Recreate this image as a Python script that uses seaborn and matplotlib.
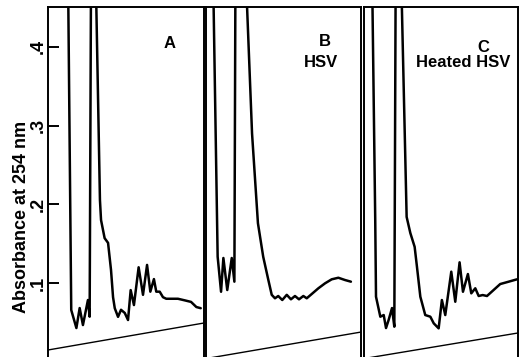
import pandas as pd
import seaborn as sns
import matplotlib.pyplot as plt

# elution position (0-100 across each panel) and absorbance at 254 nm
a_x = [12.8, 14.9, 18.2, 20.3, 22.4, 25.6, 26.7, 27.6, 30.9, 33.3, 34.0, 36.3, 38.5, 40.4,
       41.7, 42.8, 44.9, 46.8, 49.2, 51.3, 53.0, 55.1, 58.1, 60.9, 63.5, 65.6, 67.9, 69.4,
       71.6, 73.7, 75.8, 78.8, 83.3, 87.6, 91.7, 95.1, 97.9]
a_y = [0.50, 0.0657, 0.0428, 0.0682, 0.0466, 0.0784, 0.0572, 0.50, 0.46, 0.2055, 0.180,
       0.157, 0.151, 0.1165, 0.082, 0.068, 0.057, 0.066, 0.062, 0.053, 0.091, 0.072, 0.120,
       0.085, 0.123, 0.089, 0.105, 0.089, 0.089, 0.082, 0.080, 0.080, 0.080, 0.078, 0.076,
       0.0695, 0.068]

b_x = [4.5, 7.5, 9.7, 11.2, 13.7, 16.6, 18.3, 19.0, 26.3, 29.7, 33.5, 36.9, 40.2, 42.4,
       44.5, 46.6, 49.2, 52.1, 54.8, 57.4, 60.0, 62.8, 65.0, 68.2, 72.5, 76.8, 81.1, 85.4,
       89.7, 93.5]
b_y = [0.50, 0.1334, 0.0889, 0.1318, 0.0911, 0.1318, 0.1017, 0.50, 0.46, 0.290, 0.176,
       0.1334, 0.104, 0.085, 0.0806, 0.0835, 0.0784, 0.085, 0.0793, 0.0835, 0.0793, 0.0835,
       0.0806, 0.086, 0.0933, 0.0996, 0.1047, 0.1067, 0.1038, 0.1017]

c_x = [5.2, 7.3, 7.8, 10.6, 12.8, 14.3, 16.0, 18.2, 19.7, 20.6, 24.5, 27.7, 30.1, 32.9,
       34.4, 36.6, 39.8, 43.1, 45.3, 48.5, 50.6, 52.8, 56.7, 59.3, 62.1, 64.3, 67.5, 69.7,
       72.3, 74.5, 77.1, 79.9, 84.2, 88.5, 94.0, 99.4]
c_y = [0.50, 0.180, 0.0826, 0.0572, 0.0593, 0.0428, 0.0530, 0.0682, 0.0445, 0.50, 0.46,
       0.184, 0.1635, 0.146, 0.1207, 0.0826, 0.0593, 0.0572, 0.0488, 0.0424, 0.0784, 0.0593,
       0.1144, 0.0762, 0.1263, 0.0889, 0.1114, 0.0869, 0.0933, 0.0835, 0.0847, 0.0835,
       0.0911, 0.0987, 0.1017, 0.1047]

# recorder baseline drawn across the bottom of each panel (start, end)
baseline_x = [0, 100]
baseline_a = [0.0149, 0.0492]
baseline_b = [0.0040, 0.0377]
baseline_c = [0.0040, 0.0365]

yticks = [0.1, 0.2, 0.3, 0.4]
ytick_labels = ['.1', '.2', '.3', '.4']
panel_letters = ['A', 'B', 'C']
panel_names = ['', 'HSV', 'Heated HSV']

sns.set_style("ticks")
plt.rcParams['font.family'] = ['Liberation Sans', 'DejaVu Sans']
plt.rcParams['text.color'] = 'black'
plt.rcParams['axes.labelcolor'] = 'black'
plt.rcParams['ytick.color'] = 'black'

fig = plt.figure(figsize=(5.2, 3.57), dpi=100)
positions = [[0.0923, 0.0, 0.300, 0.9804],
             [0.3962, 0.0, 0.298, 0.9804],
             [0.7000, 0.0, 0.296, 0.9804]]
traces = [(a_x, a_y, baseline_a), (b_x, b_y, baseline_b), (c_x, c_y, baseline_c)]
letter_pos = [(0.78, 0.897), (0.768, 0.90), (0.773, 0.883)]
name_pos = [(0, 0), (0.742, 0.84), (0.643, 0.84)]

for i, (xs, ys, base) in enumerate(traces):
    ax = fig.add_axes(positions[i])
    df = pd.DataFrame({'pos': xs, 'abs': ys})
    sns.lineplot(data=df, x='pos', y='abs', sort=False, estimator=None,
                 color='black', lw=1.8, ax=ax)
    sns.lineplot(x=baseline_x, y=base, sort=False, estimator=None,
                 color='black', lw=1.0, ax=ax)
    ax.set_xlim(0, 100)
    ax.set_ylim(0.006, 0.4507)
    ax.set_xlabel('')
    ax.set_ylabel('')
    ax.set_xticks([])
    sns.despine(ax=ax, top=False, right=False, left=False, bottom=True)
    for s in ['left', 'right', 'top']:
        ax.spines[s].set_linewidth(1.4)
        ax.spines[s].set_color('black')

    if i == 0:
        ax.set_yticks(yticks)
        ax.set_yticklabels(ytick_labels, rotation=90, va='center', fontsize=13,
                           fontweight='bold')
        ax.tick_params(axis='y', direction='in', length=8, width=1.4, pad=1)
        ax.set_ylabel('Absorbance at 254 nm', fontsize=13, fontweight='bold')
        ax.yaxis.set_label_coords(-0.115, 0.40)
    else:
        ax.set_yticks([])

    ax.text(*letter_pos[i], panel_letters[i], transform=ax.transAxes,
            ha='center', va='center', fontsize=12, fontweight='bold')
    if panel_names[i]:
        ax.text(*name_pos[i], panel_names[i], transform=ax.transAxes,
                ha='center', va='center', fontsize=12, fontweight='bold')

fig.savefig('out.png', dpi=100)
